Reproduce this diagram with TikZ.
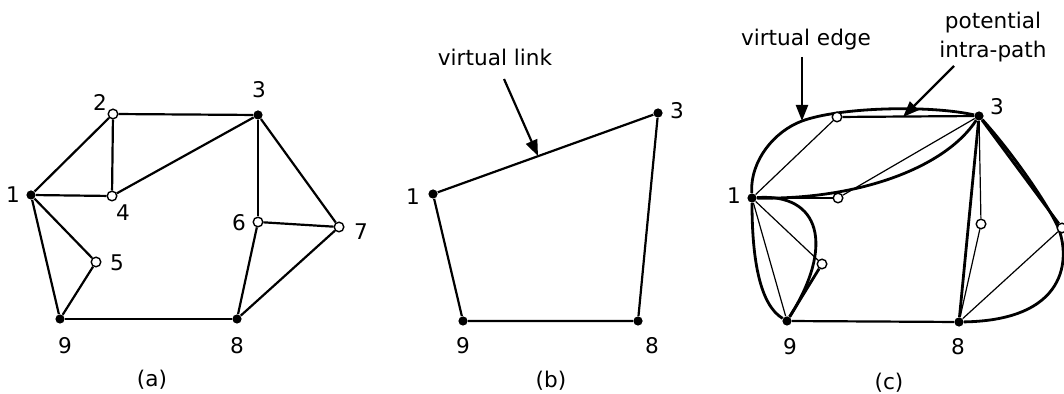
\documentclass[tikz,border=0pt]{standalone}
\usepackage{fontspec}
\setmainfont{DejaVu Sans}
\usetikzlibrary{arrows.meta,backgrounds}
\begin{document}
\begin{tikzpicture}[x=0.5pt,y=-0.5pt,>={Triangle[length=8pt,width=6pt]},
  full/.style={circle,fill=black,inner sep=0pt,minimum size=4.6pt},
  hollow/.style={circle,draw,fill=white,line width=0.7pt,inner sep=0pt,minimum size=4.8pt},
  num/.style={font=\fontsize{10.8}{14.5}\selectfont,inner sep=0pt},
  link/.style={line width=1.1pt},
  fine/.style={line width=0.6pt},
  virt/.style={line width=1.4pt}]
  \useasboundingbox (0,0) rectangle (1064,394);
  % (a) the network
  \foreach \n/\s/\p in {1/full/{31,195},2/hollow/{113,114},3/full/{258,115},4/hollow/{112,196},
      5/hollow/{96,262},6/hollow/{258,222},7/hollow/{339,227},8/full/{237,319},9/full/{60,319}}
    \node[\s] (a\n) at (\p) {};
  \foreach \n/\p in {1/{13,195},2/{100,102},3/{259,90},4/{123,213},5/{117,263},
      6/{239,223},7/{361,232},8/{237,346},9/{65,346}}
    \node[num] (la\n) at (\p) {\n};
  \begin{scope}[on background layer]
    \foreach \u/\v in {1/2,2/3,2/4,1/4,4/3,1/5,5/9,1/9,9/8,3/6,6/7,3/7,6/8,7/8}
      \draw[link] (a\u) -- (a\v);
  \end{scope}
  \node[num] (capa) at (152,380) {(a)};
  % (b) the virtual links
  \foreach \n/\p in {1/{433,194},3/{658,113},8/{638,321},9/{463,321}}
    \node[full] (b\n) at (\p) {};
  \foreach \n/\p in {1/{413,197},3/{677,111},8/{652,346},9/{463,346}}
    \node[num] (lb\n) at (\p) {\n};
  \draw[link] (b1) -- (b3) -- (b8) -- (b9) -- (b1);
  \node[num] (vlink) at (495,57) {virtual link};
  \coordinate (vlinktail) at (504,79);
  \coordinate (vlinktip) at (538,156);
  \draw[link,->] (vlinktail) -- (vlinktip);
  \node[num] (capb) at (551,381) {(b)};
  % (c) virtual edges and intra-paths
  \foreach \n/\s/\p in {1/full/{752,198},2/hollow/{837,117},3/full/{979,116},4/hollow/{838,198},
      5/hollow/{822,264},6/hollow/{981,224},7/hollow/{1062,228},8/full/{959,322},9/full/{787,321}}
    \node[\s] (c\n) at (\p) {};
  \foreach \n/\p in {1/{734,196},3/{997,107},8/{958,347},9/{790,347}}
    \node[num] (lc\n) at (\p) {\n};
  \coordinate (vedge) at (802,121);
  \coordinate (bend) at (1057,225);
  \begin{scope}[on background layer]
    \foreach \u/\v in {1/2,1/4,4/3,1/5,1/9,3/6,6/8,7/8}
      \draw[fine] (c\u) -- (c\v);
    \draw[link] (c2) -- (c3);
    \draw[link] (c9) -- (c8);
    \foreach \u/\v in {5/9,3/8,3/7}
      \draw[virt] (c\u) -- (c\v);
    \draw[virt] (c1) .. controls (750,160) and (775,131) .. (vedge)
      .. controls (840,107) and (930,105) .. (c3);
    \draw[virt] (c1) .. controls (858,200) and (945,168) .. (c3);
    \draw[virt] (c1) .. controls (820,193) and (835,245) .. (c9);
    \draw[virt] (c1) .. controls (752,260) and (760,305) .. (c9);
    \draw[virt] (c3) .. controls (1010,150) and (1045,200) .. (bend)
      .. controls (1069,250) and (1075,320) .. (c8);
  \end{scope}
  \node[num] (vedgelbl) at (806,40) {virtual edge};
  \coordinate (vedgetail) at (802,57);
  \draw[link,->] (vedgetail) -- (vedge);
  \node[num,align=center] (intralbl) at (993,37) {potential\\intra-path};
  \coordinate (intratail) at (954,66);
  \coordinate (intratip) at (903,117);
  \draw[link,->] (intratail) -- (intratip);
  \node[num] (capc) at (889,383) {(c)};
\end{tikzpicture}
\end{document}
